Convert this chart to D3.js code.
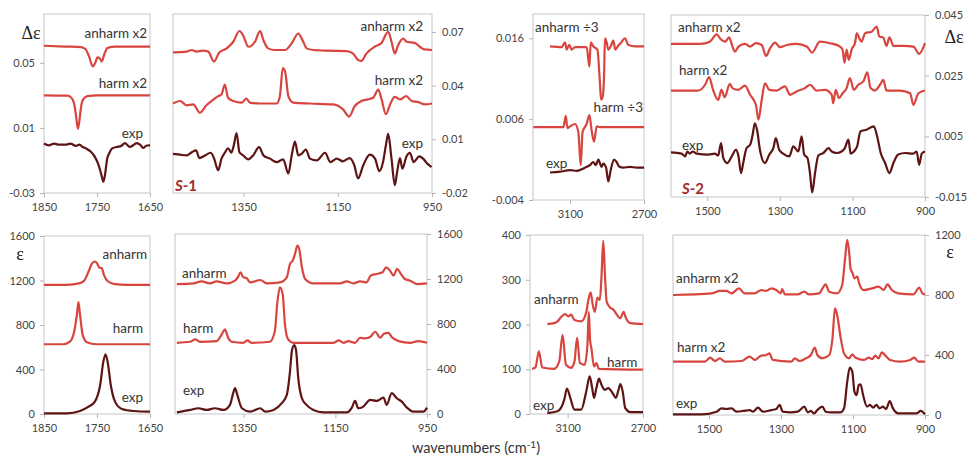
<!DOCTYPE html>
<html>
<head>
<meta charset="utf-8">
<script src="https://cdn.jsdelivr.net/npm/d3@7"></script>
<style>
  body { margin: 0; background: #fff; }
  svg { display: block; font-family: Lato, "Open Sans", sans-serif; }
  .tick text { fill: #444; font-size: 11px; font-family: Lato, "Open Sans", sans-serif; }
  .tick line { stroke: #b5b5b5; }
  .curve-label { fill: #333; font-size: 13.5px; }
</style>
</head>
<body>
<div id="chart"></div>
<script>
// Tick values
const xTicksCO = [1850, 1750, 1650];
const xTicksS1 = [1350, 1150, 950];
const xTicksCH = [3100, 2700];
const xTicksS2 = [1500, 1300, 1100, 900];
const yTicksDc1 = [-0.03, 0.01, 0.05];
const yTicksDc2 = [-0.02, 0.01, 0.04, 0.07];
const yTicksDc3 = [-0.004, 0.006, 0.016];
const yTicksDc4 = [-0.015, 0.005, 0.025, 0.045];
const yTicksEps1 = [0, 400, 800, 1200, 1600];
const yTicksEps3 = [0, 100, 200, 300, 400];
const yTicksEps4 = [0, 400, 800, 1200];

// VCD spectra (Δε), [wavenumber, value]
const dc1Anharm = [[1850,0.0605],[1810,0.0600],[1780,0.0597],[1772,0.0585],[1765,0.0540],[1758,0.0478],[1754,0.0495],[1749,0.0533],[1745,0.0528],[1741,0.0508],[1736,0.0555],[1730,0.0592],[1715,0.0600],[1650,0.0600]];
const dc1Harm = [[1850,0.0300],[1805,0.0298],[1797,0.0280],[1792,0.0230],[1789,0.0160],[1786,0.0095],[1783,0.0150],[1780,0.0230],[1776,0.0275],[1768,0.0295],[1750,0.0300],[1650,0.0300]];
const dc1Exp = [[1850,0.0004],[1841,-0.0007],[1831,0.0004],[1822,-0.0003],[1809,-0.0003],[1800,0.0004],[1790,-0.0011],[1783,-0.0003],[1777,-0.0017],[1770,-0.0027],[1762,-0.0045],[1754,-0.0078],[1748,-0.0120],[1744,-0.0160],[1740,-0.0210],[1738,-0.0231],[1735,-0.0190],[1731,-0.0093],[1726,-0.0050],[1722,-0.0027],[1713,-0.0017],[1705,-0.0012],[1697,0.0007],[1692,-0.0008],[1688,-0.0017],[1681,-0.0005],[1675,0.0007],[1668,-0.0005],[1663,-0.0023],[1656,-0.0008],[1650,-0.0007]];

const dc2Anharm = [[1500,0.0586],[1471,0.0590],[1460,0.0599],[1450,0.0590],[1436,0.0595],[1425,0.0590],[1413,0.0534],[1402,0.0584],[1386,0.0608],[1372,0.0645],[1359,0.0705],[1351,0.0680],[1340,0.0617],[1326,0.0645],[1315,0.0705],[1308,0.0654],[1298,0.0608],[1284,0.0599],[1262,0.0599],[1248,0.0636],[1234,0.0691],[1225,0.0654],[1216,0.0608],[1202,0.0599],[1174,0.0595],[1132,0.0593],[1118,0.0580],[1107,0.0544],[1100,0.0538],[1089,0.0580],[1072,0.0617],[1058,0.0636],[1043,0.0700],[1036,0.0645],[1029,0.0580],[1022,0.0626],[1011,0.0663],[1004,0.0645],[987,0.0639],[976,0.0617],[966,0.0602],[950,0.0599]];
const dc2Harm = [[1500,0.0300],[1485,0.0314],[1471,0.0290],[1457,0.0295],[1443,0.0249],[1429,0.0290],[1418,0.0314],[1404,0.0341],[1397,0.0350],[1390,0.0406],[1383,0.0332],[1372,0.0314],[1354,0.0305],[1344,0.0328],[1337,0.0305],[1315,0.0300],[1280,0.0300],[1273,0.0341],[1267,0.0498],[1262,0.0479],[1255,0.0341],[1245,0.0305],[1209,0.0300],[1160,0.0295],[1139,0.0267],[1126,0.0227],[1114,0.0286],[1100,0.0314],[1086,0.0323],[1075,0.0332],[1064,0.0378],[1057,0.0323],[1048,0.0240],[1039,0.0295],[1029,0.0337],[1018,0.0323],[1005,0.0341],[993,0.0314],[979,0.0308],[965,0.0295],[950,0.0300]];
const dc2Exp = [[1500,0.0019],[1485,0.0014],[1471,0.0010],[1460,0.0028],[1451,0.0038],[1444,-0.0005],[1432,0.0010],[1420,0.0025],[1413,-0.0005],[1404,-0.0073],[1397,-0.0008],[1390,0.0025],[1383,0.0050],[1376,0.0025],[1371,0.0065],[1365,0.0135],[1359,0.0028],[1351,0.0010],[1340,-0.0012],[1330,0.0010],[1317,0.0056],[1308,0.0010],[1294,-0.0008],[1280,-0.0027],[1266,-0.0012],[1255,-0.0091],[1248,0.0010],[1241,0.0087],[1234,0.0010],[1227,0.0019],[1218,0.0043],[1209,-0.0008],[1195,-0.0018],[1177,0.0025],[1166,-0.0027],[1152,-0.0008],[1139,-0.0023],[1125,-0.0005],[1115,-0.0045],[1107,-0.0119],[1096,-0.0045],[1082,0.0014],[1071,-0.0008],[1062,-0.0078],[1054,-0.0027],[1048,0.0065],[1043,0.0130],[1036,-0.0008],[1029,-0.0156],[1024,-0.0082],[1018,-0.0005],[1013,-0.0064],[1004,0.0005],[997,0.0025],[989,-0.0027],[977,0.0005],[969,-0.0008],[960,-0.0036],[951,-0.0055]];

const dc3Anharm = [[3208,0.0150],[3145,0.0149],[3127,0.0155],[3118,0.0146],[3104,0.0152],[3091,0.0146],[3073,0.0149],[3010,0.0149],[2995,0.0125],[2988,0.0155],[2974,0.0150],[2952,0.0146],[2938,0.0104],[2932,0.0084],[2923,0.0088],[2916,0.0113],[2911,0.0160],[2902,0.0155],[2893,0.0146],[2880,0.0150],[2866,0.0157],[2855,0.0146],[2839,0.0151],[2826,0.0154],[2803,0.0160],[2785,0.0152],[2749,0.0150],[2700,0.0150]];
const dc3Harm = [[3298,0.0050],[3136,0.0050],[3123,0.0064],[3114,0.0049],[3100,0.0051],[3073,0.0054],[3055,0.0044],[3042,0.0003],[3032,0.0044],[3010,0.0054],[2995,0.0065],[2983,0.0046],[2970,0.0032],[2956,0.0051],[2938,0.0050],[2700,0.0050]];
const dc3Exp = [[3208,-0.0006],[3154,-0.0005],[3100,-0.0003],[3064,-0.0004],[3019,0.0000],[2992,0.0003],[2974,0.0007],[2960,0.0003],[2947,0.0010],[2929,0.0001],[2920,0.0005],[2905,0.0000],[2893,-0.0017],[2880,-0.0003],[2862,0.0010],[2848,0.0007],[2833,0.0001],[2812,0.0000],[2776,0.0001],[2740,0.0000],[2700,0.0000]];

const dc4Anharm = [[1600,0.0355],[1520,0.0355],[1493,0.0362],[1474,0.0386],[1463,0.0370],[1451,0.0362],[1440,0.0376],[1430,0.0344],[1424,0.0329],[1414,0.0346],[1396,0.0355],[1382,0.0346],[1366,0.0357],[1350,0.0351],[1338,0.0315],[1327,0.0340],[1313,0.0359],[1300,0.0344],[1281,0.0351],[1254,0.0355],[1226,0.0346],[1211,0.0326],[1190,0.0362],[1162,0.0357],[1134,0.0346],[1127,0.0335],[1122,0.0293],[1116,0.0335],[1110,0.0302],[1102,0.0337],[1093,0.0357],[1088,0.0390],[1081,0.0373],[1075,0.0362],[1065,0.0390],[1047,0.0395],[1033,0.0412],[1026,0.0379],[1015,0.0376],[1006,0.0348],[998,0.0376],[987,0.0348],[960,0.0348],[932,0.0346],[916,0.0322],[900,0.0357]];
const dc4Harm = [[1600,0.0201],[1525,0.0201],[1506,0.0220],[1495,0.0245],[1484,0.0203],[1470,0.0170],[1461,0.0203],[1452,0.0179],[1438,0.0223],[1430,0.0208],[1415,0.0203],[1396,0.0217],[1382,0.0187],[1366,0.0154],[1359,0.0105],[1350,0.0170],[1341,0.0225],[1329,0.0203],[1309,0.0201],[1286,0.0215],[1272,0.0187],[1254,0.0198],[1231,0.0209],[1217,0.0220],[1199,0.0201],[1176,0.0203],[1157,0.0187],[1153,0.0159],[1146,0.0203],[1137,0.0176],[1127,0.0192],[1116,0.0209],[1107,0.0242],[1096,0.0203],[1084,0.0220],[1070,0.0231],[1059,0.0261],[1050,0.0209],[1038,0.0201],[1024,0.0220],[1015,0.0236],[1006,0.0201],[969,0.0201],[941,0.0192],[932,0.0154],[918,0.0192],[900,0.0201]];
const dc4Exp = [[1600,-0.0003],[1571,-0.0007],[1561,-0.0016],[1555,0.0000],[1548,-0.0007],[1540,0.0000],[1529,-0.0007],[1497,-0.0010],[1479,-0.0007],[1470,-0.0013],[1462,0.0028],[1456,-0.0021],[1445,-0.0038],[1430,-0.0010],[1421,0.0006],[1414,-0.0016],[1407,-0.0071],[1401,-0.0038],[1392,0.0011],[1382,0.0022],[1375,0.0055],[1369,0.0093],[1362,0.0066],[1355,0.0006],[1341,-0.0038],[1329,-0.0010],[1318,0.0011],[1311,0.0044],[1302,0.0006],[1291,-0.0007],[1274,-0.0016],[1263,0.0017],[1249,0.0000],[1240,0.0050],[1233,-0.0010],[1224,-0.0021],[1217,-0.0071],[1211,-0.0135],[1203,-0.0071],[1194,-0.0013],[1180,-0.0005],[1166,0.0011],[1157,0.0000],[1143,-0.0005],[1130,0.0000],[1121,0.0011],[1111,0.0039],[1105,-0.0007],[1096,0.0000],[1087,0.0017],[1078,0.0066],[1061,0.0072],[1041,0.0083],[1032,0.0050],[1022,-0.0005],[1010,-0.0038],[998,-0.0071],[987,-0.0038],[974,-0.0010],[955,-0.0005],[932,-0.0007],[923,0.0000],[916,-0.0044],[909,-0.0007],[900,0.0000]];

// IR spectra (ε), [wavenumber, value]
const ir1Anharm = [[1850,1160],[1807,1160],[1782,1176],[1773,1206],[1766,1281],[1760,1347],[1754,1371],[1749,1347],[1746,1317],[1741,1311],[1737,1251],[1729,1191],[1716,1167],[1694,1161],[1650,1161]];
const ir1Harm = [[1850,627],[1814,627],[1801,651],[1793,741],[1788,891],[1785,1005],[1782,891],[1777,711],[1769,645],[1751,627],[1650,627]];
const ir1Exp = [[1850,6],[1807,6],[1782,27],[1766,66],[1754,111],[1744,261],[1738,471],[1734,537],[1730,471],[1724,261],[1716,111],[1703,45],[1681,27],[1650,21]];

const ir2Anharm = [[1496,1155],[1460,1161],[1442,1179],[1424,1161],[1409,1179],[1387,1161],[1369,1185],[1362,1221],[1357,1260],[1351,1215],[1344,1209],[1336,1170],[1314,1191],[1300,1161],[1271,1170],[1256,1215],[1249,1334],[1243,1364],[1238,1424],[1233,1498],[1229,1469],[1223,1304],[1216,1200],[1198,1161],[1140,1161],[1125,1179],[1111,1161],[1096,1179],[1082,1170],[1073,1230],[1060,1245],[1047,1260],[1039,1304],[1031,1275],[1023,1230],[1015,1290],[1007,1245],[998,1200],[987,1185],[972,1155],[950,1161]];
const ir2Harm = [[1496,633],[1467,642],[1456,663],[1445,642],[1409,648],[1398,707],[1391,752],[1384,678],[1376,642],[1351,633],[1342,654],[1333,633],[1293,642],[1282,737],[1277,976],[1271,1125],[1265,1066],[1260,797],[1253,663],[1242,633],[1154,633],[1143,654],[1132,633],[1122,648],[1107,633],[1096,678],[1085,672],[1074,684],[1063,731],[1052,678],[1044,713],[1034,722],[1027,684],[1012,648],[987,633],[969,648],[950,633]];
const ir2Exp = [[1496,15],[1467,36],[1449,51],[1431,36],[1413,51],[1394,36],[1380,81],[1373,185],[1369,230],[1364,170],[1354,51],[1336,21],[1314,51],[1303,21],[1285,36],[1267,96],[1256,170],[1249,379],[1245,558],[1240,612],[1236,573],[1231,319],[1223,140],[1213,81],[1198,36],[1176,15],[1125,15],[1114,57],[1107,116],[1100,51],[1089,66],[1074,125],[1060,116],[1045,146],[1038,81],[1027,185],[1016,140],[1005,110],[994,57],[980,21],[958,21],[950,57]];

const ir3Anharm = [[3208,201],[3172,203],[3154,207],[3136,216],[3114,223],[3096,218],[3082,222],[3064,210],[3028,207],[3001,228],[2989,257],[2978,272],[2967,244],[2956,228],[2942,260],[2929,255],[2920,311],[2911,387],[2902,311],[2893,251],[2875,238],[2857,233],[2839,222],[2821,214],[2803,228],[2790,214],[2767,203],[2700,201]];
const ir3Harm = [[3289,101],[3271,104],[3253,140],[3235,104],[3172,101],[3145,117],[3127,177],[3109,110],[3082,103],[3064,117],[3050,170],[3035,114],[3010,110],[2995,155],[2988,228],[2981,166],[2974,147],[2960,106],[2947,114],[2935,101],[2700,99]];
const ir3Exp = [[3208,2],[3154,6],[3118,32],[3104,57],[3086,36],[3064,10],[3028,10],[3001,51],[2983,84],[2970,58],[2960,36],[2947,59],[2934,79],[2920,65],[2902,54],[2884,58],[2862,47],[2844,36],[2830,54],[2820,67],[2808,51],[2794,13],[2767,4],[2700,4]];

const ir4Anharm = [[1600,800],[1493,811],[1470,827],[1452,827],[1437,811],[1417,844],[1401,811],[1373,811],[1355,833],[1341,827],[1327,844],[1313,833],[1301,811],[1297,840],[1289,804],[1254,804],[1235,822],[1222,804],[1194,811],[1176,871],[1166,822],[1144,811],[1130,867],[1122,1044],[1116,1167],[1110,1067],[1107,978],[1101,944],[1096,911],[1088,922],[1083,878],[1070,833],[1047,844],[1029,856],[1015,833],[1004,871],[992,833],[974,811],[932,804],[916,849],[907,811],[900,804]];
const ir4Harm = [[1600,356],[1511,356],[1497,382],[1483,360],[1470,378],[1456,356],[1410,360],[1387,389],[1373,367],[1355,396],[1341,400],[1332,411],[1323,367],[1272,356],[1261,378],[1249,360],[1231,378],[1217,400],[1206,449],[1199,400],[1185,378],[1166,400],[1157,511],[1150,711],[1144,667],[1134,511],[1125,411],[1111,378],[1102,404],[1093,382],[1070,367],[1056,382],[1047,373],[1038,396],[1029,378],[1020,418],[1010,396],[997,367],[969,356],[941,367],[930,382],[918,356],[900,356]];
const ir4Exp = [[1600,4],[1520,4],[1479,22],[1465,44],[1452,40],[1437,44],[1424,22],[1405,27],[1387,33],[1378,22],[1364,49],[1350,22],[1327,33],[1313,40],[1304,67],[1295,22],[1272,18],[1254,22],[1235,56],[1226,18],[1217,27],[1208,11],[1199,33],[1185,56],[1176,22],[1162,18],[1134,18],[1125,44],[1116,222],[1109,316],[1102,289],[1096,156],[1090,133],[1084,200],[1079,204],[1072,133],[1061,56],[1053,67],[1044,49],[1035,67],[1026,44],[1017,56],[1008,40],[998,93],[989,44],[974,11],[923,11],[912,27],[900,4]];

// Colours
const CALC_COLOUR = "#d8453f";
const EXP_COLOUR = "#5e1414";

const width = 968;
const height = 458;

const svg = d3
  .select("#chart")
  .append("svg")
  .attr("width", width)
  .attr("height", height);

// Panel layout (pixel boxes) + data hookup
const panels = [
  {
    box: { left: 44, right: 150, top: 14, bottom: 193 },
    xDomain: [1850, 1650], yDomain: [-0.03, 0.08],
    xTicks: xTicksCO, yTicks: yTicksDc1, yAxis: "left",
    series: [[dc1Anharm, CALC_COLOUR], [dc1Harm, CALC_COLOUR], [dc1Exp, EXP_COLOUR]],
    labels: [["anharm x2", 147, 33, "end"], ["harm x2", 147, 83, "end"], ["exp", 143, 133, "end"]]
  },
  {
    box: { left: 173, right: 432, top: 14, bottom: 193 },
    xDomain: [1500, 950], yDomain: [-0.02, 0.08],
    xTicks: xTicksS1, yTicks: yTicksDc2, yAxis: "right",
    series: [[dc2Anharm, CALC_COLOUR], [dc2Harm, CALC_COLOUR], [dc2Exp, EXP_COLOUR]],
    labels: [["anharm x2", 423, 26, "end"], ["harm x2", 423, 80, "end"], ["exp", 423, 143, "end"]]
  },
  {
    box: { left: 533, right: 644, top: 14, bottom: 200 },
    xDomain: [3300, 2700], yDomain: [-0.004, 0.019],
    xTicks: xTicksCH, yTicks: yTicksDc3, yAxis: "left",
    series: [[dc3Anharm, CALC_COLOUR], [dc3Harm, CALC_COLOUR], [dc3Exp, EXP_COLOUR]],
    labels: [["anharm ÷3", 535, 27, "start"], ["harm ÷3", 643, 107, "end"], ["exp", 546, 163, "start"]]
  },
  {
    box: { left: 671, right: 925, top: 15, bottom: 197 },
    xDomain: [1600, 900], yDomain: [-0.015, 0.045],
    xTicks: xTicksS2, yTicks: yTicksDc4, yAxis: "right",
    series: [[dc4Anharm, CALC_COLOUR], [dc4Harm, CALC_COLOUR], [dc4Exp, EXP_COLOUR]],
    labels: [["anharm x2", 678, 27, "start"], ["harm x2", 679, 70, "start"], ["exp", 682, 145, "start"]]
  },
  {
    box: { left: 44, right: 150, top: 236, bottom: 414 },
    xDomain: [1850, 1650], yDomain: [0, 1600],
    xTicks: xTicksCO, yTicks: yTicksEps1, yAxis: "left",
    series: [[ir1Anharm, CALC_COLOUR], [ir1Harm, CALC_COLOUR], [ir1Exp, EXP_COLOUR]],
    labels: [["anharm", 147, 254, "end"], ["harm", 143, 328, "end"], ["exp", 143, 397, "end"]]
  },
  {
    box: { left: 175, right: 427, top: 234, bottom: 414 },
    xDomain: [1500, 950], yDomain: [0, 1600],
    xTicks: xTicksS1, yTicks: yTicksEps1, yAxis: "right",
    series: [[ir2Anharm, CALC_COLOUR], [ir2Harm, CALC_COLOUR], [ir2Exp, EXP_COLOUR]],
    labels: [["anharm", 182, 273, "start"], ["harm", 183, 328, "start"], ["exp", 183, 390, "start"]]
  },
  {
    box: { left: 530, right: 643, top: 235, bottom: 414 },
    xDomain: [3300, 2700], yDomain: [0, 400],
    xTicks: xTicksCH, yTicks: yTicksEps3, yAxis: "left",
    series: [[ir3Anharm, CALC_COLOUR], [ir3Harm, CALC_COLOUR], [ir3Exp, EXP_COLOUR]],
    labels: [["anharm", 534, 299, "start"], ["harm", 607, 362, "start"], ["exp", 533, 405, "start"]]
  },
  {
    box: { left: 673, right: 925, top: 235, bottom: 415 },
    xDomain: [1600, 900], yDomain: [0, 1200],
    xTicks: xTicksS2, yTicks: yTicksEps4, yAxis: "right",
    series: [[ir4Anharm, CALC_COLOUR], [ir4Harm, CALC_COLOUR], [ir4Exp, EXP_COLOUR]],
    labels: [["anharm x2", 676, 278, "start"], ["harm x2", 677, 347, "start"], ["exp", 676, 403, "start"]]
  }
];

panels.forEach(drawPanel);

function drawPanel(p) {
  const b = p.box;
  const x = d3.scaleLinear().domain(p.xDomain).range([b.left, b.right]);
  const y = d3.scaleLinear().domain(p.yDomain).range([b.bottom, b.top]);
  const g = svg.append("g");

  // Frame
  g.append("rect")
    .attr("x", b.left)
    .attr("y", b.top)
    .attr("width", b.right - b.left)
    .attr("height", b.bottom - b.top)
    .attr("fill", "none")
    .attr("stroke", "#c6c6c6");

  // Axes
  g.append("g")
    .attr("transform", `translate(0,${b.bottom})`)
    .call(d3.axisBottom(x).tickValues(p.xTicks).tickSize(4).tickPadding(6).tickFormat(d3.format("d")))
    .call((a) => a.select(".domain").remove());

  const left = p.yAxis === "left";
  const yAxis = (left ? d3.axisLeft(y) : d3.axisRight(y))
    .tickValues(p.yTicks)
    .tickSize(4)
    .tickPadding(left ? 5 : 6)
    .tickFormat((d) => String(d));
  g.append("g")
    .attr("transform", `translate(${left ? b.left : b.right},0)`)
    .call(yAxis)
    .call((a) => a.select(".domain").remove());

  // Spectra
  const line = d3
    .line()
    .x((d) => x(d[0]))
    .y((d) => y(d[1]))
    .curve(d3.curveMonotoneX);

  p.series.forEach(([data, colour]) => {
    g.append("path")
      .datum(data)
      .attr("fill", "none")
      .attr("stroke", colour)
      .attr("stroke-width", 2.2)
      .attr("stroke-linejoin", "round")
      .attr("d", line);
  });

  // Curve labels
  p.labels.forEach(([txt, lx, ly, anchor]) => {
    g.append("text")
      .attr("class", "curve-label")
      .attr("x", lx)
      .attr("y", ly + 4.5)
      .attr("text-anchor", anchor)
      .text(txt);
  });
}

// Quantity symbols
const symbols = [
  ["Δε", 31, 33],
  ["ε", 20, 254],
  ["Δε", 954, 37],
  ["ε", 950, 252]
];
symbols.forEach(([s, sx, sy]) => {
  svg.append("text")
    .attr("x", sx)
    .attr("y", sy + 6)
    .attr("text-anchor", "middle")
    .style("font-family", "'Liberation Serif', 'DejaVu Serif', serif")
    .style("font-size", "18px")
    .style("fill", "#222")
    .text(s);
});

// Molecule tags
[["S", "-1", 175, 191], ["S", "-2", 682, 194]].forEach(([s, n, tx, ty]) => {
  const t = svg.append("text")
    .attr("x", tx)
    .attr("y", ty)
    .style("font-size", "15px")
    .style("font-weight", "bold")
    .style("fill", "#a52a2a");
  t.append("tspan").style("font-style", "italic").text(s);
  t.append("tspan").text(n);
});

// Shared x title
const title = svg.append("text")
  .attr("x", 476)
  .attr("y", 453)
  .attr("text-anchor", "middle")
  .style("font-size", "14.5px")
  .style("fill", "#333");
title.append("tspan").text("wavenumbers (cm");
title.append("tspan").attr("dy", -5).style("font-size", "10px").text("-1");
title.append("tspan").attr("dy", 5).text(")");
</script>
</body>
</html>
